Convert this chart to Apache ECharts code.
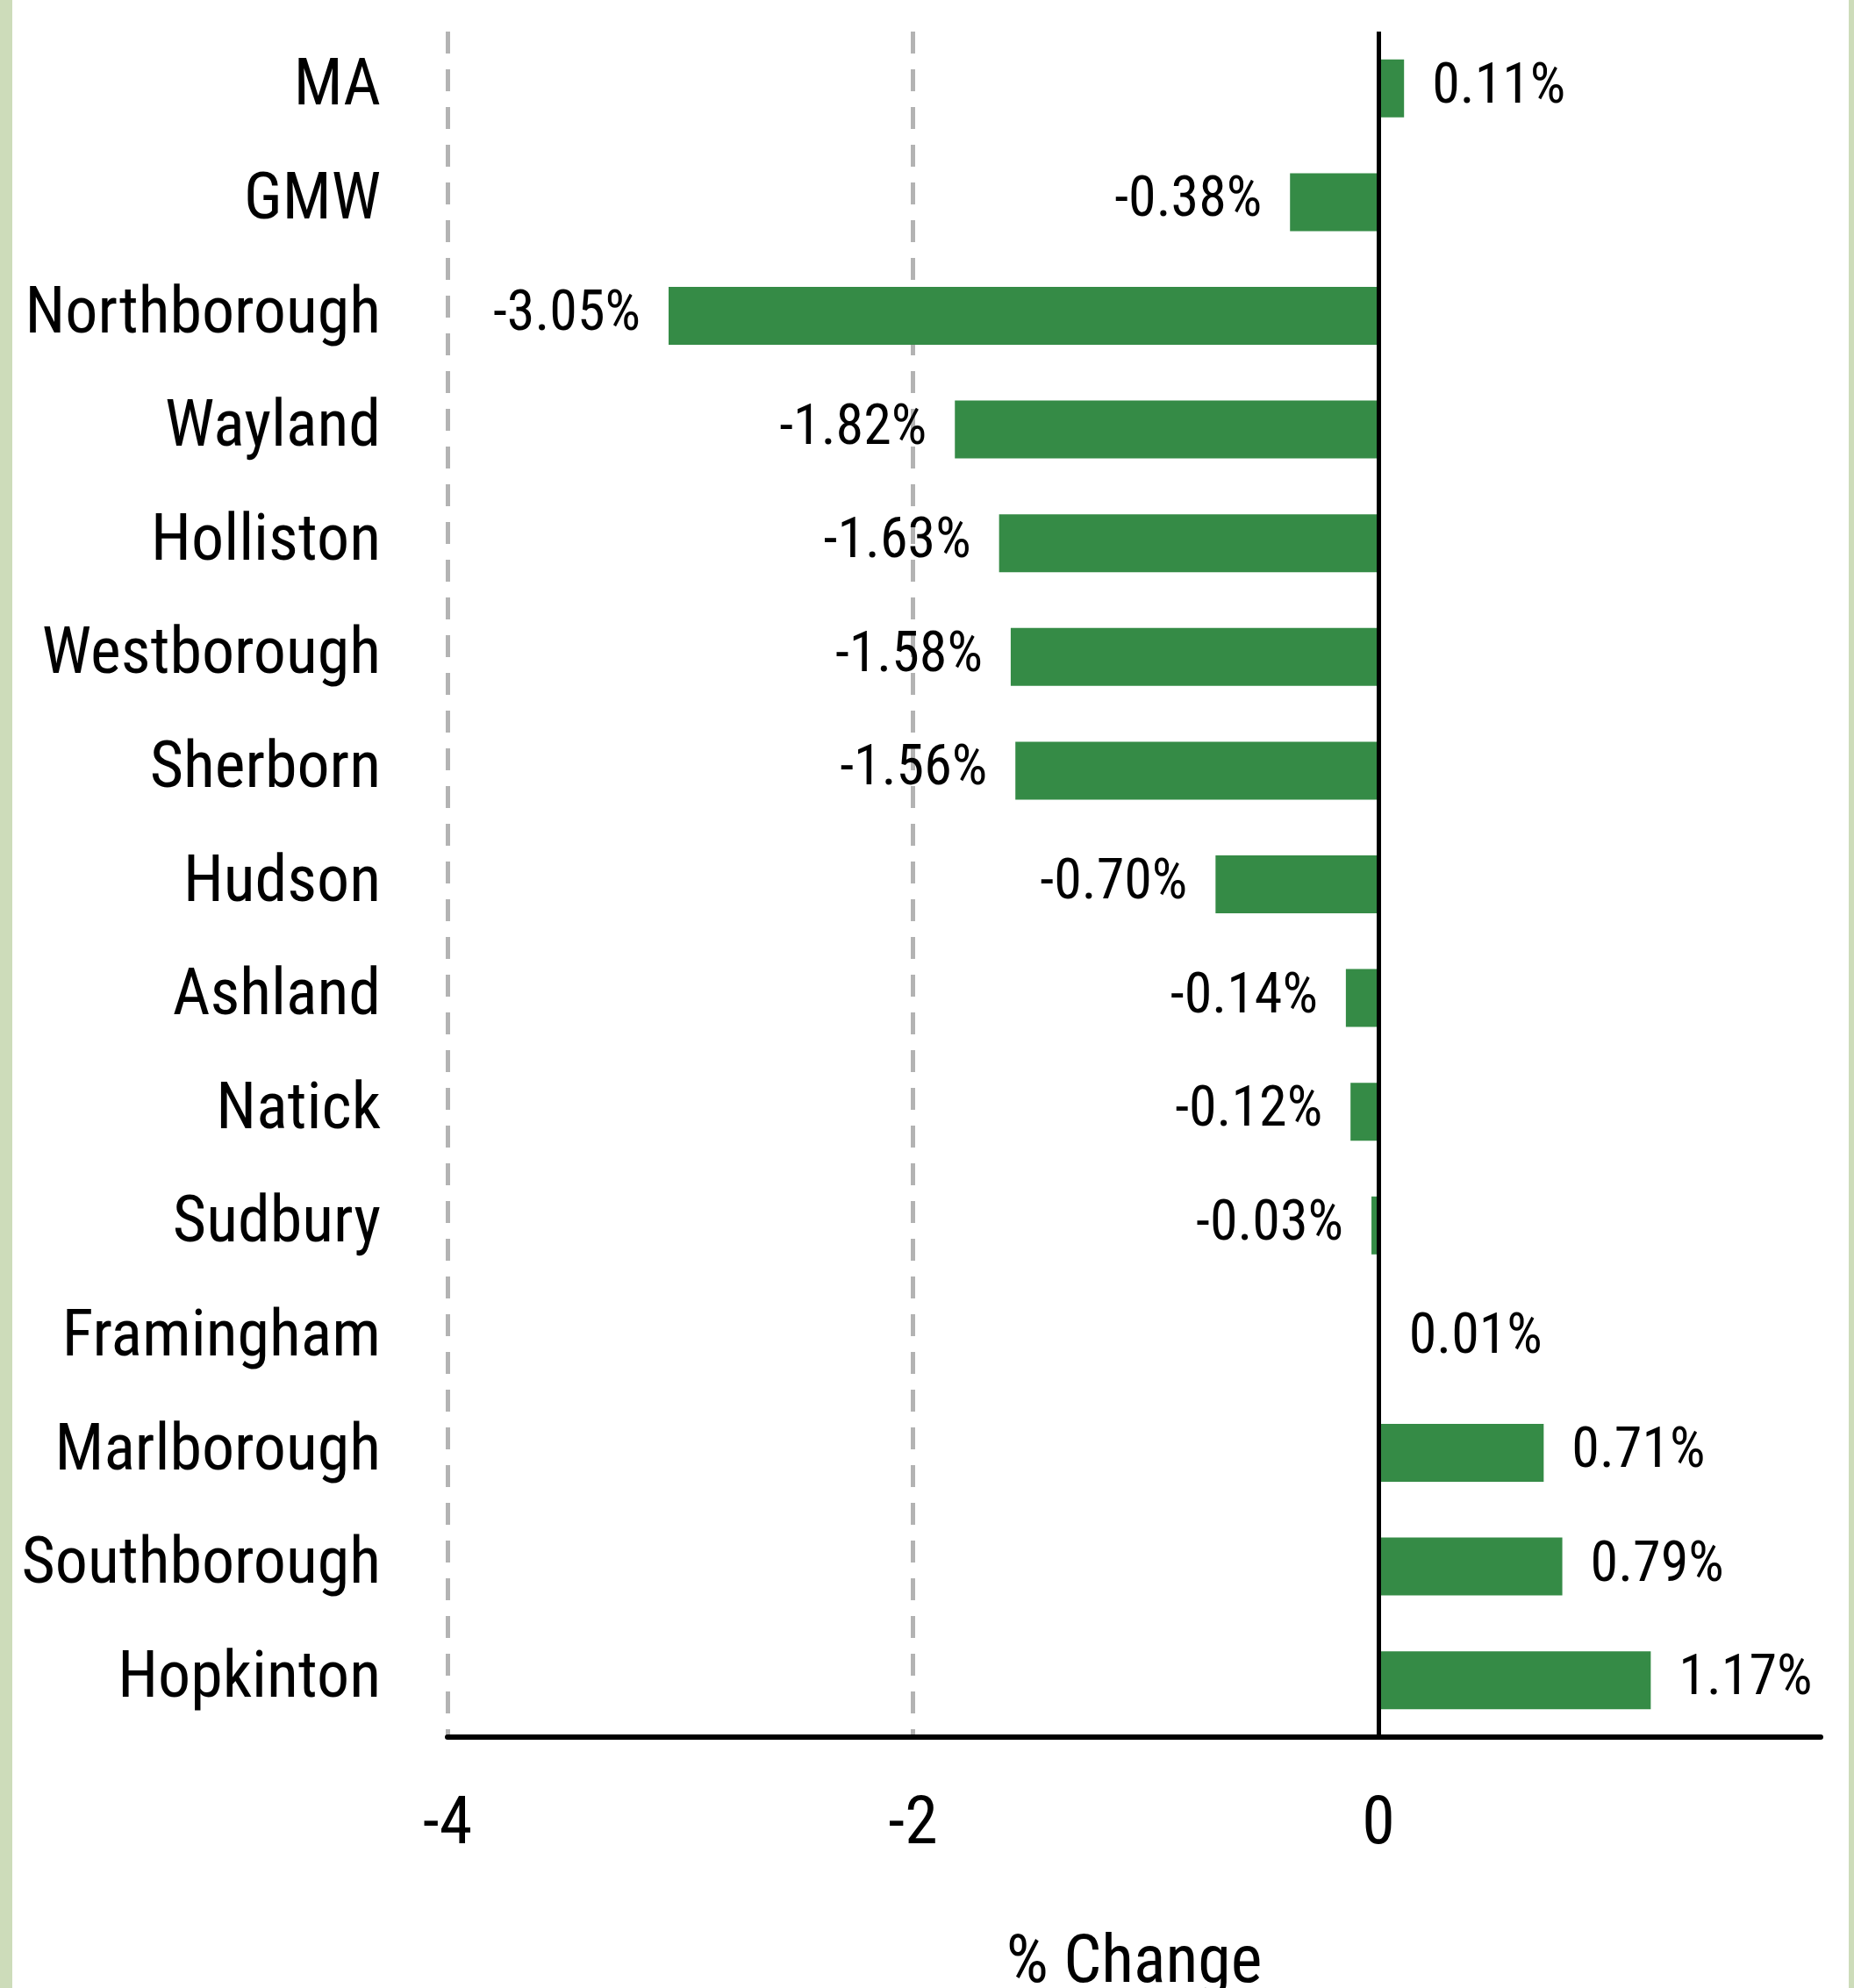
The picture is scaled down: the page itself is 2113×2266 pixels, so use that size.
<!DOCTYPE html>
<html>
<head>
<meta charset="utf-8">
<script src="https://cdn.jsdelivr.net/npm/echarts@6/dist/echarts.min.js"></script>
<style>
    html, body { margin: 0; padding: 0; background: #fff; }
    #wrap { position: relative; width: 2113px; height: 2266px; overflow: hidden; }
    #chart { position: absolute; left: 0; top: 0; width: 2113px; height: 2266px; }
    .band { position: absolute; top: 0; height: 2266px; background: #cddcba; }
</style>
</head>
<body>
<div id="wrap">
    <div id="chart"></div>
    <div class="band" style="left:0;width:14px"></div>
    <div class="band" style="right:0;width:6px"></div>
</div>
<script>
// towns, top to bottom
var towns = ['MA', 'GMW', 'Northborough', 'Wayland', 'Holliston', 'Westborough', 'Sherborn',
    'Hudson', 'Ashland', 'Natick', 'Sudbury', 'Framingham', 'Marlborough', 'Southborough', 'Hopkinton']
// % change
var change = [0.11, -0.38, -3.05, -1.82, -1.63, -1.58, -1.56, -0.70, -0.14, -0.12, -0.03, 0.01, 0.71, 0.79, 1.17]

var font = "'Liberation Sans Narrow', 'Arial Narrow', 'Roboto Condensed', 'DejaVu Sans Condensed', sans-serif"

var myChart = echarts.init(document.getElementById('chart'))

// label goes on the outer end of each bar
var barData = change.map(function (v) {
    return {
        value: v,
        label: { position: v < 0 ? 'left' : 'right' }
    }
})

var option = {
    backgroundColor: '#fff',
    animation: false,
    grid: {
        left: 510,
        right: 38,
        top: 36,
        bottom: 286,
        containLabel: false,
        outerBoundsMode: 'none'
    },
    xAxis: {
        type: 'value',
        min: -4,
        max: 1.9,
        interval: 2,
        name: '% Change',
        nameLocation: 'middle',
        nameGap: 222,
        nameTextStyle: { color: '#000', fontSize: 76, fontFamily: font },
        axisLine: { show: true, lineStyle: { color: '#000', width: 6 } },
        axisTick: { show: false },
        axisLabel: {
            color: '#000',
            fontSize: 76,
            fontFamily: font,
            margin: 64,
            showMaxLabel: false
        },
        splitLine: {
            show: true,
            showMaxLine: false,
            lineStyle: { color: '#b3b3b3', width: 5, type: [25, 18] }
        }
    },
    yAxis: {
        type: 'category',
        inverse: true,
        data: towns,
        axisLine: { show: false, onZero: false },
        axisTick: { show: false },
        axisLabel: {
            color: '#000',
            fontSize: 74,
            fontFamily: font,
            margin: 76
        },
        splitLine: { show: false }
    },
    series: [
        {
            type: 'bar',
            data: barData,
            barWidth: 66,
            itemStyle: { color: '#358b46' },
            label: {
                show: true,
                distance: 32,
                color: '#000',
                fontSize: 64,
                fontFamily: font,
                formatter: function (p) {
                    return p.value.toFixed(2) + '%'
                }
            },
            markLine: {
                silent: true,
                symbol: 'none',
                label: { show: false },
                lineStyle: { color: '#000', width: 5, type: 'solid' },
                data: [{ xAxis: 0 }]
            }
        }
    ]
}

myChart.setOption(option)
</script>
</body>
</html>
